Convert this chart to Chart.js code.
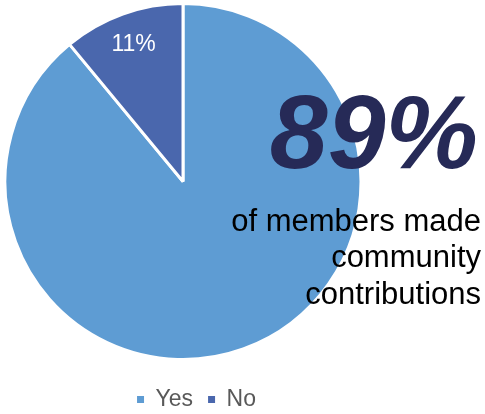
<!DOCTYPE html>
<html>
<head>
<meta charset="utf-8">
<script src="https://cdn.jsdelivr.net/npm/chart.js@4/dist/chart.umd.min.js"></script>
<style>
  html, body { margin: 0; padding: 0; background: #fff; }
  #frame { position: relative; width: 485px; height: 414px; overflow: hidden; }
  #wrap { position: absolute; left: 0; top: -10px; width: 485px; height: 431px; }
</style>
</head>
<body>
<div id="frame"><div id="wrap"><canvas id="members-chart"></canvas></div></div>
<script>
const labels = ['Yes', 'No'];
const shares = [89, 11];
const sliceColors = ['#5E9CD3', '#4A67AD'];
const captionLines = ['of members made', 'community', 'contributions'];

const fontFamily = '"Liberation Sans", Arial, sans-serif';

// percentage written inside the small slice
const sliceLabels = {
    id: 'sliceLabels',
    afterDatasetsDraw(chart) {
        const ctx = chart.ctx;
        const arc = chart.getDatasetMeta(0).data[1];
        const p = arc.getProps(['x', 'y', 'startAngle', 'endAngle', 'outerRadius'], true);
        const mid = (p.startAngle + p.endAngle) / 2;
        const r = p.outerRadius * 0.82;

        ctx.save();
        ctx.fillStyle = '#ffffff';
        ctx.font = '23px ' + fontFamily;
        ctx.textAlign = 'center';
        ctx.textBaseline = 'middle';
        ctx.fillText(shares[1] + '%', p.x + Math.cos(mid) * r, p.y + Math.sin(mid) * r);
        ctx.restore();
    }
};

// big headline number with caption under it (canvas is shifted 10px up)
const headline = {
    id: 'headline',
    afterDraw(chart) {
        const ctx = chart.ctx;
        ctx.save();
        ctx.translate(0, 10);
        ctx.textAlign = 'right';
        ctx.textBaseline = 'alphabetic';

        ctx.fillStyle = '#262A57';
        ctx.font = 'italic bold 104px ' + fontFamily;
        ctx.fillText(shares[0] + '%', 478, 168);

        ctx.fillStyle = '#000000';
        ctx.font = '31px ' + fontFamily;
        captionLines.forEach((line, i) => {
            ctx.fillText(line, 481, 230.5 + i * 36.5);
        });
        ctx.restore();
    }
};

// legend sits a bit right of the pie centre
const legendShift = {
    id: 'legendShift',
    afterLayout(chart) {
        chart.legend.left += 13.5;
        chart.legend.right += 13.5;
    }
};

const baseLabels = (Chart.overrides.doughnut || Chart.overrides.pie).plugins.legend.labels.generateLabels;

const ctx = document.getElementById('members-chart').getContext('2d');

new Chart(ctx, {
    type: 'pie',
    data: {
        labels: labels,
        datasets: [{
            data: shares,
            backgroundColor: sliceColors,
            borderColor: '#ffffff',
            borderWidth: 3
        }]
    },
    options: {
        responsive: true,
        maintainAspectRatio: false,
        animation: false,
        layout: {
            padding: { top: 0, bottom: 0, left: 3.5, right: 122.5 }
        },
        plugins: {
            legend: {
                position: 'bottom',
                labels: {
                    boxWidth: 7,
                    boxHeight: 7,
                    padding: 15,
                    color: '#595959',
                    font: { family: fontFamily, size: 23 },
                    generateLabels(chart) {
                        return baseLabels(chart).map(item => ({ ...item, lineWidth: 0 }));
                    }
                }
            },
            tooltip: { enabled: false }
        }
    },
    plugins: [sliceLabels, headline, legendShift]
});
</script>
</body>
</html>
